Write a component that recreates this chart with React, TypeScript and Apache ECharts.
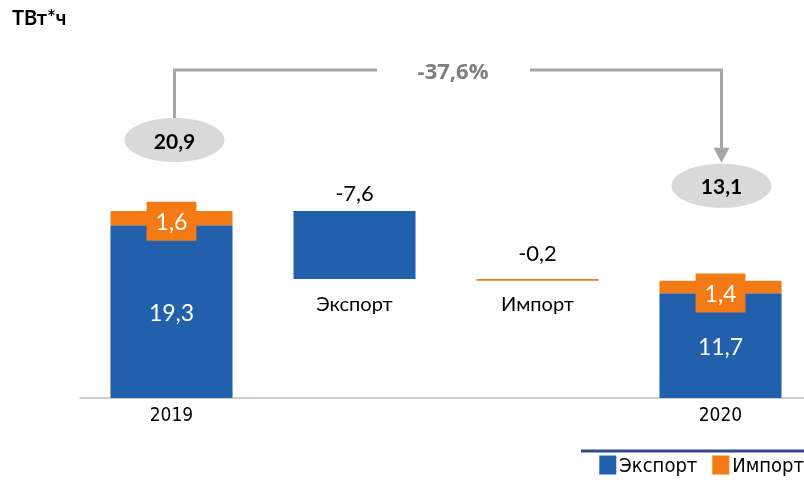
import React, { useEffect, useRef } from "react";
import * as echarts from "echarts";

const categories = ["2019", "Экспорт", "Импорт", "2020"];
const baseValues = [0, 13.3, 13.1, 0];
const exportValues: (number | null)[] = [19.3, 7.6, null, 11.7];
const importValues: (number | null)[] = [1.6, null, 0.2, 1.4];
const exportLabels = ["19,3", "-7,6", "", "11,7"];
const importLabels = ["1,6", "", "-0,2", "1,4"];
const totalValues = [20.9, 13.1];
const totalLabels = ["20,9", "13,1"];
const changeLabel = "-37,6%";

const BLUE = "#2360AC";
const ORANGE = "#F47A15";
const FONT = "Lato, 'Open Sans', sans-serif";
const NARROW = "'Liberation Sans Narrow', 'DejaVu Sans Condensed', 'Liberation Sans', sans-serif";

export default function App() {
  const ref = useRef<HTMLDivElement>(null);
  useEffect(() => {
    if (!ref.current) return;
    const chart = echarts.init(ref.current, null, { renderer: "svg" });
    const exportData = exportValues.map((v, i) => {
      if (v == null) return "-";
      const isFloat = i === 1;
      return {
        value: v,
        label: isFloat
          ? { show: true, position: "top", distance: 8, color: "#000", fontSize: 22, formatter: exportLabels[i] }
          : { show: true, position: "inside", color: "#fff", fontSize: 23, formatter: exportLabels[i] },
      };
    });
    const importData = importValues.map((v, i) => {
      if (v == null) return "-";
      const isFloat = i === 2;
      return {
        value: v,
        label: isFloat
          ? { show: true, position: "top", distance: 16, color: "#000", fontSize: 22, formatter: importLabels[i] }
          : {
              show: true,
              position: "inside",
              color: "#fff",
              fontSize: 23,
              backgroundColor: ORANGE,
              padding: [9, 9, 7, 9],
              offset: [0, i === 0 ? 3 : 6],
              formatter: importLabels[i],
            },
      };
    });
    const baseData = baseValues.map((v, i) => ({
      value: v,
      label:
        i === 1 || i === 2
          ? { show: true, position: "insideTop", distance: i === 1 ? 14 : 12, color: "#000", fontSize: 20, formatter: categories[i] }
          : { show: false },
    }));

    chart.setOption({
      animation: false,
      textStyle: { fontFamily: FONT },
      grid: { left: 80, width: 732, top: 129.6, bottom: 84, containLabel: false, outerBoundsMode: "none" },
      xAxis: {
        type: "category",
        data: categories,
        axisLine: { lineStyle: { color: "#BFBFBF", width: 1.5 } },
        axisTick: { show: false },
        axisLabel: {
          fontSize: 19,
          fontFamily: NARROW,
          color: "#000",
          margin: 6,
          formatter: (v: string) => (v === "2019" || v === "2020" ? v : ""),
        },
      },
      yAxis: { type: "value", min: 0, max: 30, show: false, splitLine: { show: false } },
      legend: {
        data: ["Экспорт", "Импорт"],
        right: 0,
        top: 455,
        padding: 0,
        icon: "rect",
        itemWidth: 17,
        itemHeight: 19,
        itemGap: 15,
        textStyle: { fontSize: 20, fontFamily: NARROW, color: "#000", padding: [0, 0, 0, -2] },
      },
      series: [
        {
          name: "base",
          type: "bar",
          stack: "s",
          barWidth: "66.7%",
          itemStyle: { color: "transparent" },
          data: baseData,
          silent: true,
        },
        {
          name: "Экспорт",
          type: "bar",
          stack: "s",
          barWidth: "66.7%",
          itemStyle: { color: BLUE },
          data: exportData,
        },
        {
          name: "Импорт",
          type: "bar",
          stack: "s",
          barWidth: "66.7%",
          itemStyle: { color: ORANGE },
          data: importData,
        },
      ],
    });

    const p0 = chart.convertToPixel({ xAxisIndex: 0, yAxisIndex: 0 }, [0, totalValues[0]]) as number[];
    const p3 = chart.convertToPixel({ xAxisIndex: 0, yAxisIndex: 0 }, [3, totalValues[1]]) as number[];
    const e0 = { x: p0[0] + 3, y: p0[1] - 71 };
    const e1 = { x: p3[0] + 1, y: p3[1] - 95 };
    const lineY = 70;
    const gray = "#A6A6A6";
    const textMid = 453;

    chart.setOption({
      graphic: [
        {
          type: "text",
          left: 12,
          top: 7,
          style: { text: "ТВт*ч", fontSize: 20, fontWeight: "bold", fill: "#000", fontFamily: FONT },
        },
        {
          type: "polyline",
          shape: { points: [[e0.x, e0.y - 22], [e0.x, lineY], [textMid - 76, lineY]] },
          style: { stroke: gray, lineWidth: 3, fill: "none" },
        },
        {
          type: "polyline",
          shape: { points: [[textMid + 77, lineY], [e1.x, lineY], [e1.x, e1.y - 37]] },
          style: { stroke: gray, lineWidth: 3, fill: "none" },
        },
        {
          type: "polygon",
          shape: { points: [[e1.x - 8, e1.y - 38], [e1.x + 8, e1.y - 38], [e1.x, e1.y - 23]] },
          style: { fill: gray },
        },
        {
          type: "text",
          x: textMid,
          y: lineY,
          style: {
            text: changeLabel,
            fontSize: 22,
            fontWeight: "bold",
            fill: "#7F7F7F",
            align: "center",
            verticalAlign: "middle",
            fontFamily: "'Open Sans', Lato, sans-serif",
          },
        },
        {
          type: "ellipse",
          shape: { cx: e0.x, cy: e0.y, rx: 50, ry: 22 },
          style: { fill: "#D9D9D9" },
        },
        {
          type: "text",
          x: e0.x,
          y: e0.y,
          style: { text: totalLabels[0], fontSize: 21, fontWeight: "bold", fill: "#000", align: "center", verticalAlign: "middle", fontFamily: FONT },
        },
        {
          type: "ellipse",
          shape: { cx: e1.x, cy: e1.y, rx: 50, ry: 22 },
          style: { fill: "#D9D9D9" },
        },
        {
          type: "text",
          x: e1.x,
          y: e1.y,
          style: { text: totalLabels[1], fontSize: 21, fontWeight: "bold", fill: "#000", align: "center", verticalAlign: "middle", fontFamily: FONT },
        },
        {
          type: "line",
          shape: { x1: 581, y1: 451, x2: 804, y2: 451 },
          style: { stroke: "#2E4C8C", lineWidth: 3 },
        },
      ],
    });

    return () => chart.dispose();
  }, []);
  return <div ref={ref} style={{ position: "fixed", left: 0, top: 0, width: 804, height: 482 }} />;
}
